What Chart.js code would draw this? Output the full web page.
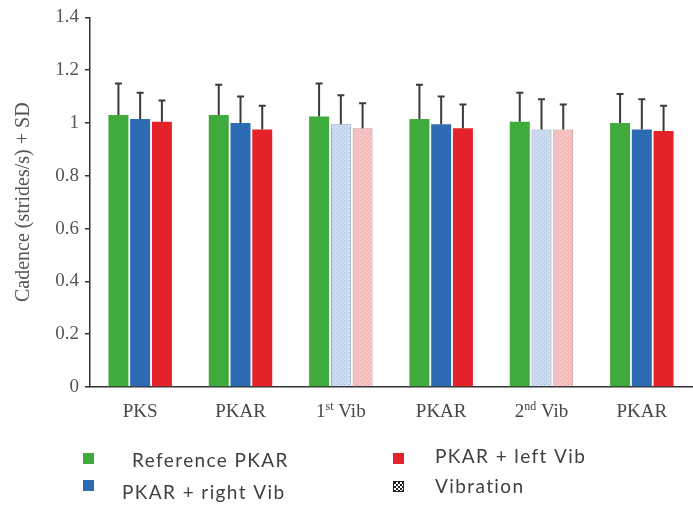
<!DOCTYPE html>
<html>
<head>
<meta charset="utf-8">
<script src="https://cdn.jsdelivr.net/npm/chart.js@4/dist/chart.umd.min.js"></script>
<style>
  html, body { margin: 0; padding: 0; background: #fff; }
  #wrap { width: 693px; height: 507px; position: relative; }
</style>
</head>
<body>
<div id="wrap"><canvas id="c" width="693" height="507"></canvas></div>
<script>
// Walking cadence per trial phase (strides/s), mean and SD
const categories = ['PKS', 'PKAR', '1st Vib', 'PKAR', '2nd Vib', 'PKAR'];
const vibrationPhase = [false, false, true, false, true, false];

const refPkar    = [1.03, 1.03, 1.025, 1.015, 1.005, 1.0];
const refPkarSd  = [0.12, 0.115, 0.125, 0.13, 0.11, 0.11];
const rightVib   = [1.015, 1.0, 0.995, 0.995, 0.975, 0.975];
const rightVibSd = [0.10, 0.10, 0.11, 0.105, 0.115, 0.115];
const leftVib    = [1.005, 0.975, 0.98, 0.98, 0.975, 0.97];
const leftVibSd  = [0.08, 0.09, 0.095, 0.09, 0.095, 0.095];

const yTicks = [0, 0.2, 0.4, 0.6, 0.8, 1, 1.2, 1.4];

const SERIF = "'Liberation Serif', 'Times New Roman', serif";
const SANS = "Lato, 'Open Sans', sans-serif";

// small dotted fill used for the vibration phases
function dotPattern(bg, dot) {
  const p = document.createElement('canvas');
  p.width = 4; p.height = 4;
  const g = p.getContext('2d');
  g.fillStyle = bg; g.fillRect(0, 0, 4, 4);
  g.fillStyle = dot; g.fillRect(0, 0, 1, 1); g.fillRect(2, 2, 1, 1);
  return g.createPattern(p, 'repeat');
}
function checkerPattern() {
  const p = document.createElement('canvas');
  p.width = 4; p.height = 4;
  const g = p.getContext('2d');
  g.fillStyle = '#fff'; g.fillRect(0, 0, 4, 4);
  g.fillStyle = '#222'; g.fillRect(0, 0, 2, 2); g.fillRect(2, 2, 2, 2);
  return g.createPattern(p, 'repeat');
}

const GREEN = '#3fab3c';
const BLUE = '#2d6cb4';
const RED = '#e3222a';
const blueDots = dotPattern('#cbdcf1', '#a9bfdc');
const redDots = dotPattern('#f6c4c4', '#e3a2a2');

const series = [
  { label: 'Reference PKAR', data: refPkar, sd: refPkarSd, solid: GREEN, dots: null, edge: GREEN },
  { label: 'PKAR + right Vib', data: rightVib, sd: rightVibSd, solid: BLUE, dots: blueDots, edge: '#8798b9' },
  { label: 'PKAR + left Vib', data: leftVib, sd: leftVibSd, solid: RED, dots: redDots, edge: '#bb8c8c' }
];

// upward SD whiskers with a small cap
const errorBars = {
  id: 'errorBars',
  afterDatasetsDraw(chart) {
    const ctx = chart.ctx;
    const y = chart.scales.y;
    ctx.save();
    ctx.strokeStyle = '#3b3b3b';
    ctx.lineWidth = 2;
    chart.data.datasets.forEach((ds, i) => {
      const meta = chart.getDatasetMeta(i);
      meta.data.forEach((bar, j) => {
        const top = y.getPixelForValue(ds.data[j]);
        const end = y.getPixelForValue(ds.data[j] + ds.sd[j]);
        ctx.beginPath();
        ctx.moveTo(bar.x, top);
        ctx.lineTo(bar.x, end);
        ctx.moveTo(bar.x - 3.5, end);
        ctx.lineTo(bar.x + 3.5, end);
        ctx.stroke();
      });
    });
    ctx.restore();
  }
};

// category labels with ordinal superscripts
const phaseLabels = {
  id: 'phaseLabels',
  afterDraw(chart) {
    const ctx = chart.ctx;
    const x = chart.scales.x;
    const base = chart.chartArea.bottom + 30;
    ctx.save();
    ctx.fillStyle = '#474747';
    ctx.textBaseline = 'alphabetic';
    ctx.textAlign = 'left';
    const mainFont = '19px ' + SERIF;
    const supFont = '12px ' + SERIF;
    categories.forEach((label, i) => {
      const cx = x.getPixelForValue(i);
      const m = label.match(/^(\d+)(st|nd|rd|th)(.*)$/);
      const parts = m ? [[m[1], mainFont, 0], [m[2], supFont, -7], [m[3], mainFont, 0]]
                      : [[label, mainFont, 0]];
      let w = 0;
      parts.forEach(p => { ctx.font = p[1]; w += ctx.measureText(p[0]).width; });
      let px = cx - w / 2;
      parts.forEach(p => {
        ctx.font = p[1];
        ctx.fillText(p[0], px, base + p[2]);
        px += ctx.measureText(p[0]).width;
      });
    });
    ctx.restore();
  }
};

// two-column key below the axis
const keyLegend = {
  id: 'keyLegend',
  afterDraw(chart) {
    const ctx = chart.ctx;
    const ds = chart.data.datasets;
    const items = [
      { text: ds[0].label, fill: GREEN, bx: 83, by: 453, tx: 132, ty: 461 },
      { text: ds[1].label, fill: BLUE, bx: 83, by: 480, tx: 122, ty: 493 },
      { text: ds[2].label, fill: RED, bx: 393, by: 453, tx: 435, ty: 457 },
      { text: 'Vibration', fill: checkerPattern(), bx: 393, by: 481, tx: 435, ty: 487, box: true }
    ];
    ctx.save();
    items.forEach(it => {
      ctx.fillStyle = it.fill;
      ctx.fillRect(it.bx, it.by, 11, 11);
      if (it.box) {
        ctx.strokeStyle = '#222';
        ctx.lineWidth = 1;
        ctx.strokeRect(it.bx + 0.5, it.by + 0.5, 10, 10);
      }
      ctx.fillStyle = '#404040';
      ctx.font = '19px ' + SANS;
      ctx.letterSpacing = '1.4px';
      ctx.textBaseline = 'middle';
      ctx.textAlign = 'left';
      ctx.fillText(it.text, it.tx, it.ty);
    });
    ctx.restore();
  }
};

new Chart(document.getElementById('c'), {
  type: 'bar',
  data: {
    labels: categories,
    datasets: series.map(s => ({
      label: s.label,
      data: s.data,
      sd: s.sd,
      backgroundColor: c => (s.dots && vibrationPhase[c.dataIndex]) ? s.dots : s.solid,
      borderColor: c => (s.dots && vibrationPhase[c.dataIndex]) ? s.edge : s.solid,
      borderWidth: c => (s.dots && vibrationPhase[c.dataIndex]) ? 1 : 0,
      categoryPercentage: 0.65,
      barPercentage: 0.92
    }))
  },
  options: {
    responsive: false,
    animation: false,
    layout: { padding: { top: 15, right: 1, left: 0, bottom: 0 } },
    plugins: { legend: { display: false }, tooltip: { enabled: false } },
    scales: {
      x: {
        offset: true,
        grid: { display: false },
        ticks: { display: false },
        border: { color: '#333', width: 1.5 },
        afterFit(s) { s.height = 120; }
      },
      y: {
        min: 0,
        max: 1.4,
        afterBuildTicks(s) { s.ticks = yTicks.map(v => ({ value: v })); },
        ticks: {
          font: { family: SERIF, size: 19 },
          color: '#555',
          padding: 6,
          callback: v => String(+Number(v).toFixed(1))
        },
        grid: { drawOnChartArea: false, tickLength: 5, color: '#333', lineWidth: 1.5 },
        border: { color: '#333', width: 1.5 },
        title: {
          display: true,
          text: 'Cadence (strides/s) + SD',
          font: { family: SERIF, size: 20 },
          color: '#555',
          padding: { top: 12, bottom: 0 }
        },
        afterFit(s) { s.width = 90; }
      }
    }
  },
  plugins: [errorBars, phaseLabels, keyLegend]
});
</script>
</body>
</html>
